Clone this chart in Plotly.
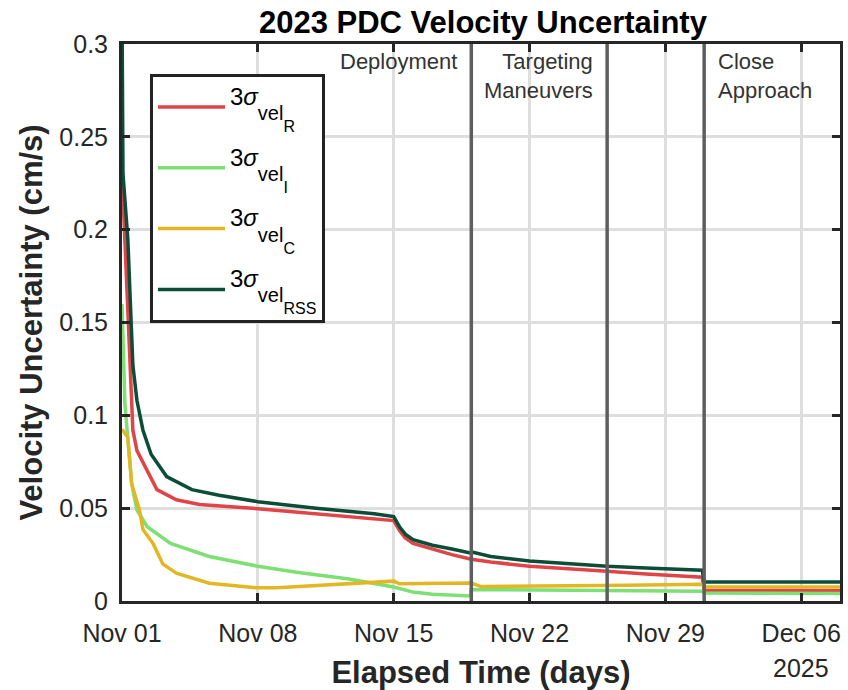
import pandas as pd
import plotly.graph_objects as go

START = "2025-11-01"

# ---- data (elapsed days, uncertainty cm/s) ----
r_days = [0, 0.3, 0.4, 0.56, 0.77, 1.28, 1.8, 2.8, 4.0, 7.0, 10.0, 13.0, 14.0, 14.3, 14.6, 15.0,
          16.0, 17.0, 18.0, 19.0, 21.0, 23.0, 25.0, 27.0, 29.0, 29.9, 30.0, 37.0]
r_vals = [0.231, 0.156, 0.127, 0.092, 0.081, 0.0705, 0.060, 0.0545, 0.052, 0.0497, 0.047, 0.044,
          0.0433, 0.038, 0.034, 0.031, 0.028, 0.025, 0.0225, 0.021, 0.0187, 0.0175, 0.016, 0.0145,
          0.0133, 0.0128, 0.0058, 0.0055]

i_days = [0, 0.15, 0.5, 0.77, 1.3, 2.5, 4.5, 7.0, 9.0, 11.7, 14.0, 14.5, 15.0, 16.0, 17.0, 17.95,
          18.0, 22.0, 26.0, 29.9, 30.0, 37.0]
i_vals = [0.16, 0.106, 0.063, 0.049, 0.040, 0.031, 0.024, 0.0187, 0.0155, 0.0118, 0.0075, 0.006,
          0.0048, 0.0036, 0.003, 0.0027, 0.0062, 0.0058, 0.0055, 0.0053, 0.0043, 0.0040]

c_days = [0, 0.3, 0.5, 0.9, 1.08, 1.6, 2.1, 2.8, 4.5, 6.9, 8.0, 11.7, 14.0, 14.3, 15.0, 17.9, 18.0,
          18.5, 22.0, 26.0, 29.9, 30.0, 37.0]
c_vals = [0.0925, 0.088, 0.063, 0.049, 0.0385, 0.031, 0.020, 0.015, 0.0096, 0.0072, 0.0072, 0.0095,
          0.0107, 0.0093, 0.0093, 0.0097, 0.0097, 0.0078, 0.0080, 0.0085, 0.009, 0.0075, 0.0075]

rss_days = [0, 0.05, 0.3, 0.5, 0.56, 0.77, 1.08, 1.5, 2.3, 3.6, 5.0, 7.0, 10.0, 13.0, 14.0, 14.3,
            14.6, 15.0, 16.0, 17.0, 18.0, 18.1, 19.0, 21.0, 23.0, 25.0, 27.0, 29.0, 29.9, 30.0,
            33.0, 37.0]
rss_vals = [0.32, 0.23, 0.195, 0.145, 0.127, 0.108, 0.092, 0.079, 0.067, 0.060, 0.057, 0.0535,
            0.050, 0.047, 0.0455, 0.040, 0.036, 0.033, 0.030, 0.028, 0.0257, 0.0262, 0.024, 0.0215,
            0.020, 0.0187, 0.0178, 0.017, 0.0166, 0.0102, 0.0102, 0.0102]

series_subscripts = ["R", "I", "C", "RSS"]
series_colors = ["#df4548", "#7ddf74", "#e3b724", "#0c4d38"]

event_dates = ["2025-11-19", "2025-11-26", "2025-12-01"]
phase_labels = ["Deployment", "Targeting<br>Maneuvers", "Close<br>Approach"]
phase_label_x = ["2025-11-19", "2025-11-26", "2025-12-01"]
phase_anchor = ["right", "right", "left"]

tick_dates = ["2025-11-01", "2025-11-08", "2025-11-15", "2025-11-22", "2025-11-29", "2025-12-06"]
tick_text = ["Nov 01", "Nov 08", "Nov 15", "Nov 22", "Nov 29", "Dec 06"]
y_ticks = [0, 0.05, 0.1, 0.15, 0.2, 0.25, 0.3]
y_tick_text = ["0", "0.05", "0.1", "0.15", "0.2", "0.25", "0.3"]


def to_dates(days):
    return pd.Timestamp(START) + pd.to_timedelta(days, unit="D")


def legend_name(sub):
    return ("<sup style='font-size:27px !important'><span style='font-size:24px'>3<i>σ</i></span></sup>"
            "<span style='font-size:20px'>vel</span>"
            "<sub style='font-size:40px !important'><span style='font-size:16px'>" + sub +
            "</span></sub>")


FONT = "Liberation Sans, Arial, Helvetica, sans-serif"
AX = "#262626"

fig = go.Figure()
for k, (d, v) in enumerate([(r_days, r_vals), (i_days, i_vals), (c_days, c_vals), (rss_days, rss_vals)]):
    fig.add_trace(go.Scatter(
        x=to_dates(d), y=v, mode="lines", name=legend_name(series_subscripts[k]),
        line=dict(color=series_colors[k], width=3.5),
        legendgroup=f"g{k}",
    ))

for d in event_dates:
    fig.add_vline(x=pd.Timestamp(d).value / 1e6, line=dict(color="#5e5e5e", width=3.5), layer="above")

for lbl, xd, anc in zip(phase_labels, phase_label_x, phase_anchor):
    fig.add_annotation(
        x=pd.Timestamp(xd).value / 1e6, xref="x", y=1, yref="paper", yanchor="top",
        xanchor=anc, align=anc, text=lbl, showarrow=False,
        xshift=-12 if anc == "right" else 12, yshift=-3,
        font=dict(family=FONT, size=22, color="#333333"),
    )

fig.add_annotation(
    x=pd.Timestamp(tick_dates[-1]).value / 1e6, xref="x", y=0, yref="paper", yanchor="middle",
    text="2025", showarrow=False, yshift=-67,
    font=dict(family=FONT, size=25, color=AX),
)

fig.update_layout(
    width=848, height=690,
    margin=dict(l=122, r=5, t=44, b=85),
    paper_bgcolor="white", plot_bgcolor="white",
    font=dict(family=FONT, size=25, color=AX),
    title=dict(text="<b>2023 PDC Velocity Uncertainty</b>", x=0.5695, xanchor="center",
               y=1 - 22 / 690, yanchor="middle", yref="container",
               font=dict(family=FONT, size=31, color="black")),
    showlegend=True,
    legend=dict(x=0.039, y=0.946, xanchor="left", yanchor="top",
                bgcolor="white", bordercolor="#222222", borderwidth=3,
                font=dict(family=FONT, size=36, color="black"),
                tracegroupgap=11, itemwidth=67),
)

fig.update_xaxes(
    type="date", range=["2025-11-01", "2025-12-08"],
    tickvals=tick_dates, ticktext=tick_text,
    showgrid=True, gridcolor="#dedede", gridwidth=2.5,
    showline=True, linecolor=AX, linewidth=3, mirror="allticks",
    ticks="inside", ticklen=8, tickwidth=3, tickcolor=AX,
    tickfont=dict(family=FONT, size=25, color=AX),
    ticklabelstandoff=8,
    title=dict(text="<b>Elapsed Time (days)</b>", font=dict(family=FONT, size=31, color=AX), standoff=16),
    zeroline=False,
)
fig.update_yaxes(
    range=[0, 0.3], tickvals=y_ticks, ticktext=y_tick_text,
    showgrid=True, gridcolor="#dedede", gridwidth=2.5,
    showline=True, linecolor=AX, linewidth=3, mirror="allticks",
    ticks="inside", ticklen=8, tickwidth=3, tickcolor=AX,
    tickfont=dict(family=FONT, size=25, color=AX),
    ticklabelstandoff=6,
    title=dict(text="<b>Velocity Uncertainty (cm/s)</b>", font=dict(family=FONT, size=31, color=AX), standoff=8),
    zeroline=False,
)

fig.write_html("out.html")
